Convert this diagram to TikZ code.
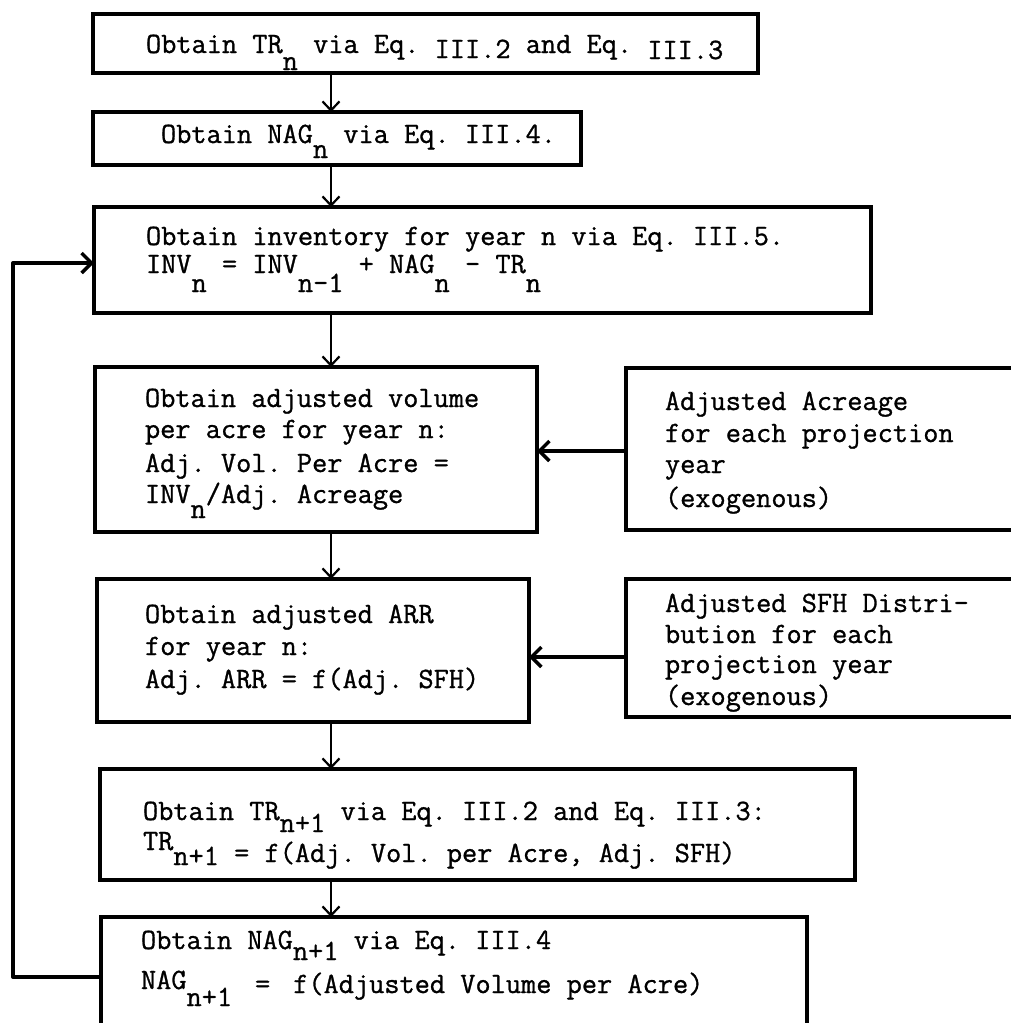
\documentclass[tikz,border=0pt]{standalone}
\usepackage{fontspec}
\setmonofont[FakeBold=1]{Latin Modern Mono}
\usetikzlibrary{arrows.meta}
\newcommand\sub[2][17pt]{\raisebox{-#1}{#2}}
\newcommand\hc{\hspace*{0.2625em}}
\tikzset{
 box/.style={draw, line width=3.2pt, anchor=north west, inner sep=0pt, outer sep=0pt},
 txt/.style={anchor=base west, inner sep=0pt, outer sep=0pt, font=\ttfamily\fontsize{29.5}{31}\selectfont},
 varrow/.style={line width=2pt, -{Straight Barb[length=9pt,width=17pt,line width=2.2pt]}},
 harrow/.style={line width=4pt, -{Straight Barb[length=10pt,width=20pt,line width=3.5pt]}},
}
\begin{document}
\begin{tikzpicture}[x=1pt,y=-1pt]
\useasboundingbox (0,0) rectangle (1011,1023);
\fill[white] (0,0) rectangle (1011,1023);
\clip (0,0) rectangle (1011,1023);
% boxes
\node[box, minimum width=665pt, minimum height=59pt] (b1) at (93,14) {};
\node[box, minimum width=488pt, minimum height=53pt] (b2) at (93,112) {};
\node[box, minimum width=777pt, minimum height=106pt] (b3) at (94,207) {};
\node[box, minimum width=442pt, minimum height=165pt] (b4) at (95,367) {};
\node[box, minimum width=430pt, minimum height=162pt] (b5) at (626,368) {};
\node[box, minimum width=432pt, minimum height=143pt] (b6) at (97,579) {};
\node[box, minimum width=430pt, minimum height=138pt] (b7) at (626,579) {};
\node[box, minimum width=755pt, minimum height=111pt] (b8) at (100,769) {};
\node[box, minimum width=706pt, minimum height=140pt] (b9) at (101,917) {};
% texts
\node[txt] (t1) at (146,53) {Obtain TR\sub{n} via Eq. \raisebox{-5pt}{III.2} and Eq. \raisebox{-6pt}{III.3}};
\node[txt] (t2) at (161,143) {Obtain NAG\sub[15pt]{n} via Eq. III.4.};
\node[txt] (t3a) at (146,245) {Obtain inventory for year n via Eq. III.5.};
\node[txt] (t3b) at (146,273) {INV\sub[19pt]{n} = INV\sub[19pt]{n-1} + NAG\sub[19pt]{n} - TR\sub[19pt]{n}};
\node[txt] (t4a) at (145,407) {Obtain adjusted volume};
\node[txt] (t4b) at (145,438) {per acre for year n:};
\node[txt] (t4c) at (145,472) {Adj. Vol. Per Acre =};
\node[txt] (t4d) at (145,503) {INV\sub[15pt]{n}/Adj. Acreage};
\node[txt] (t5a) at (665,410) {Adjusted Acreage};
\node[txt] (t5b) at (665,442) {for each projection};
\node[txt] (t5c) at (665,473) {year};
\node[txt] (t5d) at (665,507) {(exogenous)};
\node[txt] (t6a) at (145,623) {Obtain adjusted ARR};
\node[txt] (t6b) at (145,655) {for year n:};
\node[txt] (t6c) at (145,688) {Adj. ARR = f(Adj. SFH)};
\node[txt] (t7a) at (665,612) {Adjusted SFH Distri-};
\node[txt] (t7b) at (665,643) {bution for each};
\node[txt] (t7c) at (665,673) {projection year};
\node[txt] (t7d) at (665,705) {(exogenous)};
\node[txt] (t8a) at (143,820) {Obtain TR\sub[12pt]{n+1} via Eq. III.2 and Eq. III.3:};
\node[txt] (t8b) at (143,862) {\raisebox{12pt}{TR}\sub[3pt]{n+1} = f(Adj. Vol. per Acre, Adj. SFH)};
\node[txt] (t9a) at (141,949) {Obtain NAG\sub[11pt]{n+1} via Eq. III.4};
\node[txt] (t9b) at (141,993) {\raisebox{4pt}{NAG}\sub[13pt]{n+1}\ \hc=\hc\ f(Adjusted Volume per Acre)};
% connectors
\coordinate (ax) at (331,0);
\draw[varrow] (b1.south -| ax) -- (b2.north -| ax);
\draw[varrow] (b2.south -| ax) -- (b3.north -| ax);
\draw[varrow] (b3.south -| ax) -- (b4.north -| ax);
\draw[varrow] (b4.south -| ax) -- (b6.north -| ax);
\draw[varrow] (b6.south -| ax) -- (b8.north -| ax);
\draw[varrow] (b8.south -| ax) -- (b9.north -| ax);
\coordinate (h1) at (0,451);
\coordinate (h2) at (0,657);
\draw[harrow] (b5.west |- h1) -- (b4.east |- h1);
\draw[harrow] (b7.west |- h2) -- (b6.east |- h2);
\coordinate (lb) at (13,977);
\coordinate (lt) at (13,263);
\draw[harrow, line join=round] (b9.west |- lb) -- (lb) -- (lt) -- (b3.west |- lt);
\end{tikzpicture}
\end{document}
